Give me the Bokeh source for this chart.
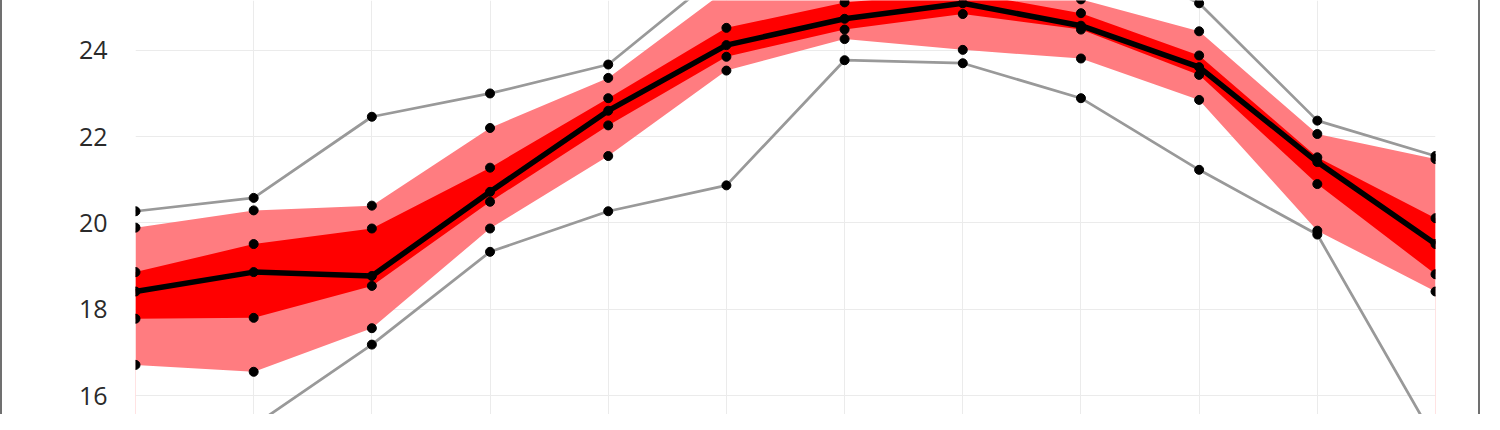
from bokeh.plotting import figure
from bokeh.models import Range1d, FixedTicker, ColumnDataSource
from bokeh.embed import file_html
from bokeh.resources import INLINE

months = ["Jan", "Feb", "Mar", "Apr", "May", "Jun", "Jul", "Aug", "Sep", "Oct", "Nov", "Dec"]
gray_max = [20.27, 20.58, 22.46, 23.00, 23.67, 25.9, 26.5, 26.6, 26.4, 25.09, 22.37, 21.55]
light_upper = [19.89, 20.29, 20.40, 22.20, 23.36, 25.4, 25.6, 25.6, 25.18, 24.44, 22.06, 21.48]
dark_upper = [18.86, 19.51, 19.87, 21.28, 22.89, 24.52, 25.11, 25.35, 24.86, 23.88, 21.52, 20.11]
median = [18.41, 18.86, 18.77, 20.72, 22.60, 24.12, 24.73, 25.09, 24.57, 23.61, 21.41, 19.51]
dark_lower = [17.78, 17.80, 18.54, 20.49, 22.26, 23.85, 24.48, 24.84, 24.48, 23.43, 20.90, 18.81]
light_lower = [16.71, 16.55, 17.56, 19.87, 21.55, 23.53, 24.26, 24.01, 23.81, 22.85, 19.82, 18.41]
gray_min = [14.9, 15.3, 17.18, 19.33, 20.27, 20.87, 23.77, 23.70, 22.89, 21.23, 19.73, 14.95]
y_ticks = [14, 16, 18, 20, 22, 24, 26]

x = list(range(1, len(months) + 1))
src = ColumnDataSource(dict(x=x, gmax=gray_max, lu=light_upper, du=dark_upper, med=median,
                            dl=dark_lower, ll=light_lower, gmin=gray_min))

Y0, Y1 = 15.56, 25.154
p = figure(width=1480, height=414, output_backend="svg", toolbar_location=None,
           x_range=Range1d(1, 12), y_range=Range1d(Y0, Y1),
           min_border_left=133, min_border_right=47, min_border_top=0, min_border_bottom=0)
p.styles = {"border-left": "2px solid #707070", "border-right": "2px solid #707070"}
p.outline_line_color = None
p.background_fill_color = "white"
p.border_fill_color = "white"

p.xaxis.visible = False
p.xgrid.ticker = FixedTicker(ticks=x)
p.xgrid.grid_line_color = "#ebebeb"
p.yaxis.ticker = FixedTicker(ticks=y_ticks)
p.ygrid.grid_line_color = "#ebebeb"
p.yaxis.axis_line_color = None
p.yaxis.major_tick_line_color = None
p.yaxis.minor_tick_line_color = None
p.yaxis.major_tick_out = 0
p.yaxis.major_tick_in = 0
p.yaxis.minor_tick_out = 0
p.yaxis.major_label_standoff = 28
p.yaxis.major_label_text_font = "Open Sans"
p.yaxis.major_label_text_font_size = "25px"
p.yaxis.major_label_text_color = "#2a2a2a"

# pink edge lines below band at first/last category
p.segment(x0=[x[0], x[-1]], y0=[Y0, Y0], x1=[x[0], x[-1]], y1=[light_lower[0], light_lower[-1]],
          line_color="#ffc8c8", line_width=1)

p.varea(x="x", y1="ll", y2="lu", source=src, fill_color="#ff7c80")
p.varea(x="x", y1="dl", y2="du", source=src, fill_color="#ff0000")
p.line(x="x", y="gmax", source=src, line_color="#999999", line_width=2.75)
p.line(x="x", y="gmin", source=src, line_color="#999999", line_width=2.75)
p.line(x="x", y="med", source=src, line_color="black", line_width=5.5)
for col in ["gmax", "lu", "du", "med", "dl", "ll", "gmin"]:
    p.scatter(x="x", y=col, source=src, size=9, fill_color="black", line_color="black")

open("out.html", "w").write(file_html(p, INLINE))
